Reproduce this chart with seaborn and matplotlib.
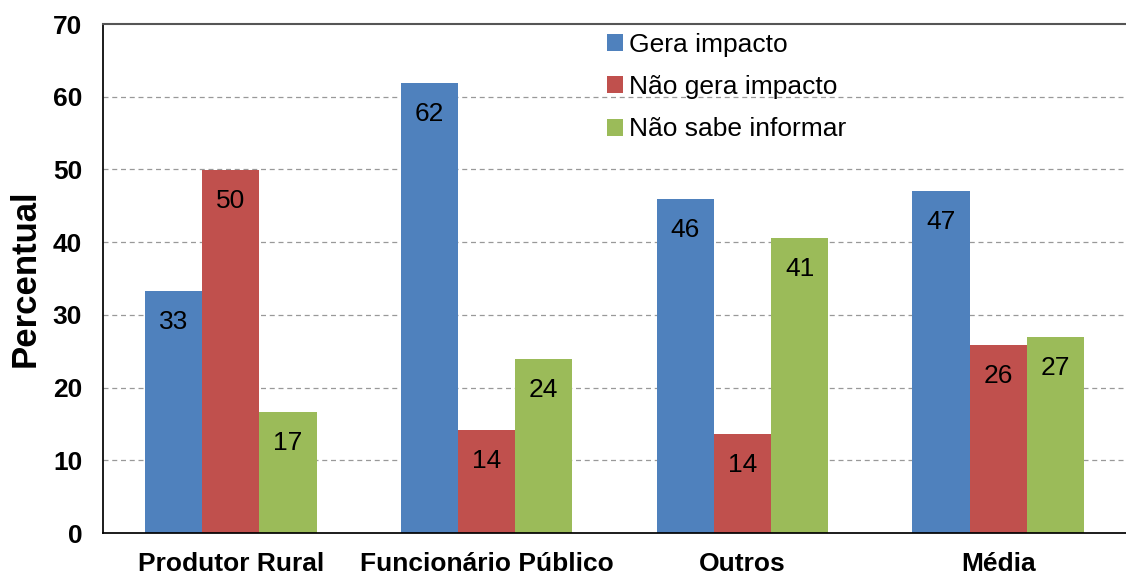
import matplotlib
matplotlib.use("Agg")
import matplotlib.pyplot as plt
import pandas as pd
import seaborn as sns

categories = ["Produtor Rural", "Funcionário Público", "Outros", "Média"]
series = ["Gera impacto", "Não gera impacto", "Não sabe informar"]
gera = [33.3, 61.9, 45.9, 47.0]
nao_gera = [49.9, 14.2, 13.6, 25.9]
nao_sabe = [16.6, 23.9, 40.6, 27.0]
colors = ["#4F81BD", "#C0504D", "#9BBB59"]

df = pd.DataFrame({
    "categoria": categories * 3,
    "serie": [s for s in series for _ in categories],
    "valor": gera + nao_gera + nao_sabe,
})

sns.set_theme(style="white")
plt.rcParams["font.family"] = ["Liberation Sans", "DejaVu Sans"]
plt.rcParams["text.color"] = "black"
plt.rcParams["xtick.labelcolor"] = "black"
plt.rcParams["ytick.labelcolor"] = "black"
plt.rcParams["axes.labelcolor"] = "black"

fig = plt.figure(figsize=(11.26, 5.79), dpi=100)
ax = fig.add_axes([0.0915, 0.0794, 0.9085, 0.8791])

sns.barplot(data=df, x="categoria", y="valor", hue="serie", order=categories,
            hue_order=series, palette=colors, width=0.67, saturation=1,
            edgecolor="none", ax=ax)

for cont in ax.containers:
    ax.bar_label(cont, fmt="%.0f", padding=-31, fontsize=19, color="black")

ax.set_ylim(0, 70)
ax.set_xlim(-0.5, 3.5)
ax.set_yticks(range(0, 71, 10))
ax.set_yticklabels([str(v) for v in range(0, 71, 10)], fontsize=19, fontweight="bold")
ax.set_xticks([0, 1, 2, 3])
ax.set_xticklabels(categories, fontsize=19, fontweight="bold")
ax.tick_params(axis="x", length=0, pad=14)
ax.tick_params(axis="y", direction="inout", length=10, width=1, color="#555555", pad=10)
# group separators on x axis
ax.set_xticks([0.5, 1.5, 2.5], minor=True)
ax.tick_params(axis="x", which="minor", direction="out", length=10, width=1, color="#333333")
ax.set_xlabel("")
ax.set_ylabel("Percentual", fontsize=25, fontweight="bold", labelpad=8)

for y in range(10, 70, 10):
    ax.axhline(y, color="#999999", linestyle=(0, (4, 3)), linewidth=0.9, zorder=0)

ax.spines["right"].set_visible(False)
ax.spines["top"].set_color("#555555")
ax.spines["top"].set_linewidth(1.5)
ax.spines["left"].set_color("black")
ax.spines["bottom"].set_color("black")

leg = ax.legend(loc="upper left", bbox_to_anchor=(0.4695, 1.03), frameon=False,
                fontsize=19, handlelength=0.6, handleheight=0.6, handletextpad=0.25,
                labelspacing=0.7)
for h in leg.legend_handles:
    h.set_edgecolor("none")

fig.savefig("out.png", dpi=100)
plt.close(fig)
